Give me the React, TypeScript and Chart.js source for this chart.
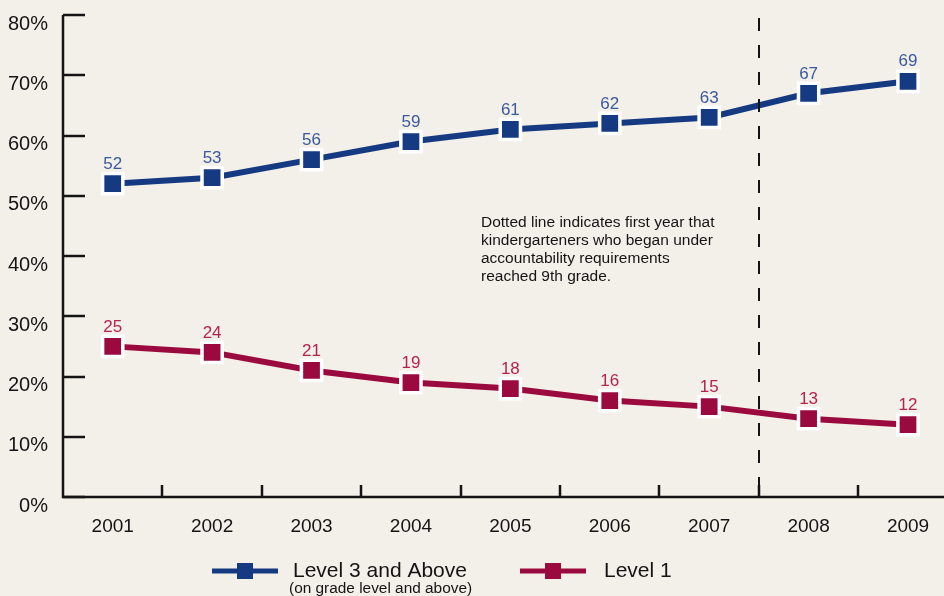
import React, { useEffect, useRef } from "react";
import { Chart, registerables } from "chart.js";

Chart.register(...registerables);

const years = ["2001", "2002", "2003", "2004", "2005", "2006", "2007", "2008", "2009"];
const level3 = [52, 53, 56, 59, 61, 62, 63, 67, 69];
const level1 = [25, 24, 21, 19, 18, 16, 15, 13, 12];
const yTicks = [0, 10, 20, 30, 40, 50, 60, 70, 80];
const seriesNames = ["Level 3 and Above", "Level 1"];
const level3Note = "(on grade level and above)";
const dividerAfterYear = "2007";
const noteLines = [
  "Dotted line indicates first year that",
  "kindergarteners who began under",
  "accountability requirements",
  "reached 9th grade.",
];

const FONT = '"Liberation Sans", Arial, Helvetica, sans-serif';
const BG = "#f3efe9";
const NAVY = "#153a82";
const CRIMSON = "#9b0a3e";
const NAVY_LABEL = "#3a5a9c";
const CRIMSON_LABEL = "#b3234f";
const INK = "#141414";

const overlayPlugin = {
  id: "overlay",
  beforeDraw(chart: any) {
    const { ctx, width, height } = chart;
    ctx.save();
    ctx.fillStyle = BG;
    ctx.fillRect(0, 0, width, height);
    ctx.restore();
  },
  beforeDatasetsDraw(chart: any) {
    const { ctx, chartArea } = chart;
    const xs = chart.scales.x;
    const ys = chart.scales.y;
    ctx.save();
    ctx.strokeStyle = INK;
    ctx.lineWidth = 2.5;
    ctx.beginPath();
    ctx.moveTo(chartArea.left, chartArea.top);
    ctx.lineTo(chartArea.left, chartArea.bottom);
    ctx.lineTo(chartArea.right, chartArea.bottom);
    ctx.stroke();
    yTicks.forEach((v) => {
      const y = Math.round(ys.getPixelForValue(v));
      ctx.beginPath();
      ctx.moveTo(chartArea.left, y);
      ctx.lineTo(chartArea.left + 22, y);
      ctx.stroke();
    });
    for (let i = 1; i < years.length; i++) {
      const x = Math.round(xs.getPixelForValue(i + 0.5));
      ctx.beginPath();
      ctx.moveTo(x, chartArea.bottom);
      ctx.lineTo(x, chartArea.bottom - 12);
      ctx.stroke();
    }
    ctx.restore();
  },
  afterDatasetsDraw(chart: any) {
    const { ctx, chartArea } = chart;
    const xs = chart.scales.x;
    const idx = years.indexOf(dividerAfterYear) + 1;
    const dx = Math.round(xs.getPixelForValue(idx + 0.5));
    ctx.save();
    ctx.strokeStyle = INK;
    ctx.lineWidth = 2;
    ctx.setLineDash([13, 14]);
    ctx.beginPath();
    ctx.moveTo(dx, chartArea.top + 3);
    ctx.lineTo(dx, chartArea.bottom);
    ctx.stroke();
    ctx.setLineDash([]);

    const labelColors = [NAVY_LABEL, CRIMSON_LABEL];
    const dataArrays = [level3, level1];
    ctx.font = `17px ${FONT}`;
    ctx.textAlign = "center";
    ctx.textBaseline = "middle";
    chart.data.datasets.forEach((_: any, di: number) => {
      const meta = chart.getDatasetMeta(di);
      ctx.fillStyle = labelColors[di];
      meta.data.forEach((pt: any, i: number) => {
        ctx.fillText(String(dataArrays[di][i]), pt.x, pt.y - 19.5);
      });
    });

    ctx.fillStyle = INK;
    ctx.font = `15.5px ${FONT}`;
    ctx.textAlign = "left";
    noteLines.forEach((line, i) => {
      ctx.fillText(line, 481, 223 + i * 18);
    });

    const legendItems = [
      { color: NAVY, x0: 212, x1: 278, tx: 293 },
      { color: CRIMSON, x0: 520, x1: 586, tx: 604 },
    ];
    const ly = 571;
    legendItems.forEach((it, i) => {
      ctx.strokeStyle = it.color;
      ctx.lineWidth = 5;
      ctx.beginPath();
      ctx.moveTo(it.x0, ly);
      ctx.lineTo(it.x1, ly);
      ctx.stroke();
      const cx = (it.x0 + it.x1) / 2;
      ctx.fillStyle = it.color;
      ctx.fillRect(cx - 8, ly - 8, 16, 16);
      ctx.fillStyle = INK;
      ctx.font = `21px ${FONT}`;
      ctx.textAlign = "left";
      ctx.textBaseline = "middle";
      ctx.fillText(seriesNames[i], it.tx, ly);
    });
    ctx.font = `15.4px ${FONT}`;
    ctx.fillText(level3Note, 289, 589);
    ctx.restore();
  },
};

export default function App() {
  const canvasRef = useRef<HTMLCanvasElement | null>(null);

  useEffect(() => {
    document.body.style.margin = "0";
    const canvas = canvasRef.current;
    if (!canvas) return;
    const chart = new Chart(canvas, {
      type: "line",
      data: {
        datasets: [
          {
            label: seriesNames[0],
            data: level3.map((v, i) => ({ x: i + 1, y: v })),
            borderColor: NAVY,
            backgroundColor: NAVY,
            borderWidth: 6,
            pointStyle: "rect",
            pointRadius: 14.3,
            pointBorderWidth: 3.5,
            pointBorderColor: "#ffffff",
            pointBackgroundColor: NAVY,
            tension: 0,
            clip: false,
          },
          {
            label: seriesNames[1],
            data: level1.map((v, i) => ({ x: i + 1, y: v })),
            borderColor: CRIMSON,
            backgroundColor: CRIMSON,
            borderWidth: 6,
            pointStyle: "rect",
            pointRadius: 14.3,
            pointBorderWidth: 3.5,
            pointBorderColor: "#ffffff",
            pointBackgroundColor: CRIMSON,
            tension: 0,
            clip: false,
          },
        ],
      },
      options: {
        animation: false,
        responsive: false,
        maintainAspectRatio: false,
        layout: { padding: { top: 15, left: 0, right: 0, bottom: 0 }, autoPadding: false },
        plugins: { legend: { display: false }, tooltip: { enabled: false } },
        scales: {
          x: {
            type: "linear",
            min: 0.5,
            max: 9.362,
            grid: { display: false, drawTicks: false },
            border: { display: false },
            afterBuildTicks: (s: any) => {
              s.ticks = years.map((_, i) => ({ value: i + 1 }));
            },
            afterFit: (s: any) => {
              s.height = 99;
              s.paddingLeft = 0;
              s.paddingRight = 0;
            },
            ticks: {
              autoSkip: false,
              maxRotation: 0,
              padding: 18,
              color: INK,
              font: { size: 19, family: FONT },
              callback: (v: any) => years[Math.round(Number(v)) - 1] ?? "",
            },
          },
          y: {
            min: 0,
            max: 80,
            grid: { display: false, drawTicks: false },
            border: { display: false },
            afterBuildTicks: (s: any) => {
              s.ticks = yTicks.map((v) => ({ value: v }));
            },
            afterFit: (s: any) => {
              s.width = 63;
              s.paddingTop = 0;
              s.paddingBottom = 0;
            },
            ticks: {
              padding: 15,
              labelOffset: 9,
              color: INK,
              font: { size: 20, family: FONT },
              callback: (v: any) => `${v}%`,
            },
          },
        },
      },
      plugins: [overlayPlugin],
    } as any);
    return () => chart.destroy();
  }, []);

  return (
    <div style={{ position: "absolute", left: 0, top: 0, width: 944, height: 596, background: BG }}>
      <canvas ref={canvasRef} width={944} height={596} style={{ display: "block", width: 944, height: 596 }} />
    </div>
  );
}
